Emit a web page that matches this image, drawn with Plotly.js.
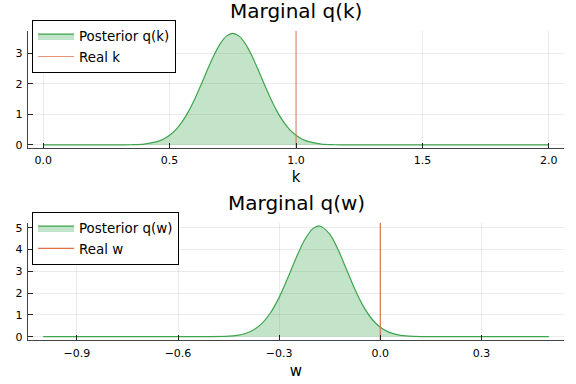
<!DOCTYPE html>
<html>
<head>
<meta charset="utf-8">
<script src="https://cdn.plot.ly/plotly-3.0.1.min.js"></script>
<style>html,body{margin:0;padding:0;background:#fff;}#chart{width:576px;height:384px;}</style>
</head>
<body>
<div id="chart"></div>
<script>
// ---- data ----
const kGrid = [0, 0.1, 0.2, 0.3, 0.35, 0.4, 0.45, 0.475, 0.5, 0.525, 0.55, 0.575, 0.6, 0.625, 0.65, 0.675, 0.7, 0.725, 0.75, 0.775, 0.8, 0.825, 0.85, 0.875, 0.9, 0.925, 0.95, 0.975, 1.0, 1.025, 1.05, 1.1, 1.15, 1.2, 1.3, 1.5, 1.75, 2.0];
const qK = [0, 0, 0, 0.001, 0.007, 0.030, 0.108, 0.189, 0.316, 0.503, 0.762, 1.100, 1.513, 1.980, 2.467, 2.928, 3.309, 3.562, 3.650, 3.562, 3.309, 2.928, 2.467, 1.980, 1.513, 1.100, 0.762, 0.503, 0.316, 0.189, 0.108, 0.030, 0.007, 0.001, 0, 0, 0, 0];
const realK = 1.0;

const wGrid = [-1.0, -0.8, -0.6, -0.55, -0.5, -0.45, -0.425, -0.4, -0.375, -0.35, -0.325, -0.3, -0.275, -0.25, -0.225, -0.2, -0.18, -0.15, -0.125, -0.1, -0.075, -0.05, -0.025, 0.0, 0.025, 0.05, 0.075, 0.1, 0.15, 0.2, 0.3, 0.4, 0.5];
const qW = [0, 0, 0, 0, 0.003, 0.024, 0.063, 0.148, 0.318, 0.623, 1.110, 1.804, 2.671, 3.602, 4.427, 4.959, 5.080, 4.708, 3.990, 3.081, 2.168, 1.390, 0.812, 0.433, 0.210, 0.093, 0.037, 0.014, 0.001, 0, 0, 0, 0];
const realW = 0.0;

const kTicks = [0, 0.5, 1.0, 1.5, 2.0];
const kTickText = ['0.0', '0.5', '1.0', '1.5', '2.0'];
const wTicks = [-0.9, -0.6, -0.3, 0.0, 0.3];
const wTickText = ['\u22120.9', '\u22120.6', '\u22120.3', '0.0', '0.3'];
const qKTicks = [0, 1, 2, 3];
const qWTicks = [0, 1, 2, 3, 4, 5];

const xRangeK = [-0.06, 2.06];
const yRangeK = [-0.09, 3.73];
const xRangeW = [-1.045, 0.545];
const yRangeW = [-0.152, 5.23];

// ---- styles ----
const GREEN = '#3da44d';
const GREEN_FILL = 'rgba(61,164,77,0.30)';
const ORANGE = '#e26f46';
const FONT = 'DejaVu Sans, Liberation Sans, sans-serif';

const traces = [
  {x: kGrid, y: qK, xaxis: 'x', yaxis: 'y', type: 'scatter', mode: 'lines', name: 'Posterior q(k)',
   line: {color: GREEN, width: 1.2, shape: 'spline', smoothing: 0.8}, fill: 'tozeroy', fillcolor: GREEN_FILL, legend: 'legend'},
  {x: [realK, realK], y: yRangeK, xaxis: 'x', yaxis: 'y', type: 'scatter', mode: 'lines', name: 'Real k',
   line: {color: ORANGE, width: 1.2}, opacity: 0.75, legend: 'legend'},
  {x: wGrid, y: qW, xaxis: 'x2', yaxis: 'y2', type: 'scatter', mode: 'lines', name: 'Posterior q(w)',
   line: {color: GREEN, width: 1.2, shape: 'spline', smoothing: 0.8}, fill: 'tozeroy', fillcolor: GREEN_FILL, legend: 'legend2'},
  {x: [realW, realW], y: yRangeW, xaxis: 'x2', yaxis: 'y2', type: 'scatter', mode: 'lines', name: 'Real w',
   line: {color: ORANGE, width: 1.2}, legend: 'legend2'}
];

function axisBase() {
  return {
    showline: true, linecolor: '#444', linewidth: 1.3, mirror: false,
    ticks: 'inside', ticklen: 5, tickwidth: 1, tickcolor: '#222',
    showgrid: true, gridcolor: 'rgba(0,0,0,0.08)', gridwidth: 1,
    zeroline: false, tickfont: {size: 11, color: '#000', family: FONT},
    automargin: false, fixedrange: true, ticklabelstandoff: 2
  };
}

const legendBase = {
  xanchor: 'left', yanchor: 'top', bgcolor: '#fff', bordercolor: '#000', borderwidth: 1,
  font: {size: 13.4, family: FONT, color: '#000'}, tracegroupgap: 0, itemwidth: 36
};

const layout = {
  width: 576, height: 384,
  margin: {l: 28, r: 12, t: 31, b: 44, pad: 0},
  paper_bgcolor: '#fff', plot_bgcolor: '#fff',
  font: {family: FONT, color: '#000'},
  showlegend: true,
  xaxis: Object.assign(axisBase(), {domain: [0, 1], anchor: 'y', range: xRangeK, tickvals: kTicks, ticktext: kTickText,
    title: {text: 'k', font: {size: 15, family: FONT}, standoff: 5}}),
  yaxis: Object.assign(axisBase(), {domain: [0.6223, 1], anchor: 'x', range: yRangeK, tickvals: qKTicks}),
  xaxis2: Object.assign(axisBase(), {domain: [0, 1], anchor: 'y2', range: xRangeW, tickvals: wTicks, ticktext: wTickText,
    title: {text: 'w', font: {size: 15, family: FONT}, standoff: 7}}),
  yaxis2: Object.assign(axisBase(), {domain: [0, 0.3796], anchor: 'x2', range: yRangeW, tickvals: qWTicks}),
  legend: Object.assign({}, legendBase, {x: 0.0075, y: 1.036}),
  legend2: Object.assign({}, legendBase, {x: 0.0075, y: 0.4148}),
  annotations: [
    {text: 'Marginal q(k)', xref: 'paper', yref: 'paper', x: 0.5, y: 1.0634, xanchor: 'center', yanchor: 'middle',
     showarrow: false, font: {size: 20, family: FONT, color: '#000'}},
    {text: 'Marginal q(w)', xref: 'paper', yref: 'paper', x: 0.5, y: 0.443, xanchor: 'center', yanchor: 'middle',
     showarrow: false, font: {size: 20, family: FONT, color: '#000'}}
  ]
};

Plotly.newPlot('chart', traces, layout, {displayModeBar: false, staticPlot: true});
</script>
</body>
</html>
